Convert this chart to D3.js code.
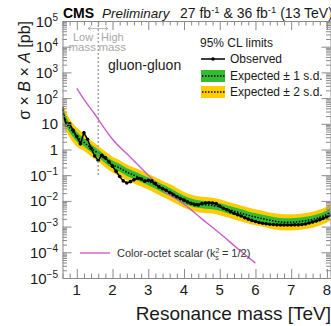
<!DOCTYPE html>
<html>
<head>
<meta charset="utf-8">
<script src="https://cdn.jsdelivr.net/npm/d3@7/dist/d3.min.js"></script>
<style>
  html, body { margin: 0; padding: 0; background: #fff; }
  svg { display: block; font-family: "Liberation Sans", Arial, Helvetica, sans-serif; }
</style>
</head>
<body>
<script>
// ---------------- data ----------------
const obsMass = [0.6,0.7,0.8,0.9,1.0,1.1,1.2,1.3,1.4,1.5,1.6,1.7,1.8,1.9,2.0,2.1,2.2,2.3,2.4,2.5,
  2.6,2.7,2.8,2.9,3.0,3.1,3.2,3.3,3.4,3.5,3.6,3.7,3.8,3.9,4.0,4.1,4.2,4.3,4.4,4.5,
  4.6,4.7,4.8,4.9,5.0,5.1,5.2,5.3,5.4,5.5,5.6,5.7,5.8,5.9,6.0,6.1,6.2,6.3,6.4,6.5,
  6.6,6.7,6.8,6.9,7.0,7.1,7.2,7.3,7.4,7.5,7.6,7.7,7.8,7.9,8.0,8.1];
const obsLimit = [38,8.9,10,5.6,3.2,1.66,4.5,2.5,1.12,0.56,0.38,0.60,0.48,0.33,0.224,0.141,0.089,0.060,0.050,0.056,
  0.066,0.076,0.071,0.058,0.063,0.060,0.047,0.035,0.030,0.026,0.021,0.0174,0.0145,0.0123,0.0107,0.0091,0.0079,0.0071,0.0069,0.0078,
  0.0083,0.0085,0.0083,0.0078,0.0063,0.0052,0.0045,0.0038,0.0033,0.0029,0.0026,0.0022,0.00195,0.00174,0.00158,0.00145,0.00135,0.00129,0.00123,0.00120,
  0.00117,0.00115,0.00115,0.00115,0.00115,0.00117,0.00117,0.00120,0.00126,0.00138,0.00151,0.00166,0.00186,0.0021,0.0024,0.0028];

const expMass = [0.6,0.8,1.0,1.2,1.4,1.6,1.8,2.0,2.2,2.4,2.6,2.8,3.0,3.2,3.4,3.6,3.8,4.0,4.2,4.4,
  4.6,4.8,5.0,5.2,5.4,5.6,5.8,6.0,6.2,6.4,6.6,6.8,7.0,7.2,7.4,7.6,7.8,8.0,8.1];
const expMedian = [25,7.1,3.2,1.9,1.12,0.71,0.42,0.26,0.19,0.132,0.100,0.076,0.058,0.042,0.030,0.0224,0.0158,0.0112,0.0087,0.0076,
  0.0071,0.0066,0.0058,0.0048,0.0040,0.0033,0.00275,0.00234,0.00204,0.00178,0.00158,0.00148,0.00148,0.00155,0.00170,0.00191,0.00229,0.0030,0.0038];
const expPlus2 = [56,15.8,7.1,4.0,2.24,1.41,0.83,0.52,0.38,0.26,0.20,0.151,0.115,0.083,0.060,0.045,0.032,0.0224,0.0174,0.0151,
  0.0141,0.0132,0.0115,0.0095,0.0079,0.0066,0.0055,0.0047,0.0041,0.0035,0.0032,0.0030,0.0030,0.0031,0.0034,0.0038,0.0046,0.0060,0.0079];
const expPlus1 = [38,10.7,4.8,2.75,1.58,1.0,0.59,0.37,0.27,0.186,0.141,0.107,0.081,0.059,0.043,0.032,0.0224,0.0158,0.0123,0.0107,
  0.0100,0.0093,0.0081,0.0068,0.0056,0.0047,0.0039,0.0033,0.0029,0.0025,0.00224,0.0021,0.0021,0.0022,0.0024,0.0027,0.0032,0.0043,0.0055];
const expMinus1 = [16.6,4.7,2.1,1.35,0.79,0.50,0.295,0.186,0.135,0.093,0.071,0.054,0.041,0.0295,0.0214,0.0158,0.0112,0.0079,0.0062,0.0054,
  0.0050,0.0047,0.0041,0.0034,0.0028,0.00234,0.00195,0.00166,0.00145,0.00126,0.00112,0.00105,0.00105,0.0011,0.0012,0.00135,0.00162,0.00214,0.0026];
const expMinus2 = [10.5,2.95,1.32,0.89,0.54,0.34,0.20,0.126,0.091,0.063,0.048,0.036,0.0275,0.020,0.0145,0.0107,0.0076,0.0054,0.0042,0.0036,
  0.0034,0.0032,0.00275,0.00229,0.0019,0.00158,0.00132,0.00112,0.00098,0.00085,0.00076,0.00071,0.00071,0.00074,0.00081,0.00091,0.0011,0.00145,0.00174];

const octetMass = [1.0,1.25,1.5,1.75,2.0,2.5,3.0,3.5,4.0,4.5,5.0,5.5,6.0];
const octetXsec = [240,71,24,7.4,2.5,0.50,0.10,0.022,0.0075,0.0020,0.00055,0.00014,0.000038];

const xTicks = [1,2,3,4,5,6,7,8];
const yExponents = [5,4,3,2,1,0,-1,-2,-3,-4,-5];
const boundaryMass = 1.6;

// ---------------- layout ----------------
const W = 331, H = 326;
const L = 62.5, R = 330.5, T = 21, B = 278;
const frameColor = "#8a8a8a";
const green = "#33bb33", yellow = "#ffcc00", magenta = "#c95fc9";

const svg = d3.select("body").append("svg").attr("width", W).attr("height", H);

const x = d3.scaleLinear().domain([0.6, 8.1]).range([L, R]);
const y = d3.scaleLog().domain([1e-5, 1e5]).range([B, T]);

svg.append("clipPath").attr("id", "clip").append("rect")
  .attr("x", L).attr("y", T).attr("width", R - L).attr("height", B - T);
const plot = svg.append("g").attr("clip-path", "url(#clip)");

// bands
const idx = d3.range(expMass.length);
const area2 = d3.area().curve(d3.curveMonotoneX)
  .x(i => x(expMass[i])).y0(i => y(expMinus2[i])).y1(i => y(expPlus2[i]));
const area1 = d3.area().curve(d3.curveMonotoneX)
  .x(i => x(expMass[i])).y0(i => y(expMinus1[i])).y1(i => y(expPlus1[i]));
plot.append("path").attr("d", area2(idx)).attr("fill", yellow);
plot.append("path").attr("d", area1(idx)).attr("fill", green);
const expLine = d3.line().curve(d3.curveMonotoneX)
  .x(i => x(expMass[i])).y(i => y(expMedian[i]));
plot.append("path").attr("d", expLine(idx)).attr("fill", "none")
  .attr("stroke", "#000").attr("stroke-width", 1.5).attr("stroke-dasharray", "1.5,1.5");

// colour-octet scalar
const oIdx = d3.range(octetMass.length);
const octLine = d3.line().curve(d3.curveMonotoneX)
  .x(i => x(octetMass[i])).y(i => y(octetXsec[i]));
plot.append("path").attr("d", octLine(oIdx)).attr("fill", "none")
  .attr("stroke", magenta).attr("stroke-width", 1.4);

// observed
const obIdx = d3.range(obsMass.length);
const obsLine = d3.line().x(i => x(obsMass[i])).y(i => y(obsLimit[i]));
plot.append("path").attr("d", obsLine(obIdx)).attr("fill", "none")
  .attr("stroke", "#000").attr("stroke-width", 1.5);
plot.selectAll("circle.obs").data(obIdx).enter().append("circle")
  .attr("class", "obs").attr("cx", i => x(obsMass[i])).attr("cy", i => y(obsLimit[i]))
  .attr("r", 1.8).attr("fill", "#000");

// boundary line
svg.append("line").attr("x1", x(boundaryMass)).attr("x2", x(boundaryMass))
  .attr("y1", T).attr("y2", y(0.1))
  .attr("stroke", "#9a9a9a").attr("stroke-width", 1.3).attr("stroke-dasharray", "2,2");

// ---------------- axes ----------------
const majorY = yExponents.map(e => Math.pow(10, e));
const minorY = [];
for (let e = -5; e < 5; e++) for (let k = 2; k <= 9; k++) minorY.push(k * Math.pow(10, e));
const minorX = [];
for (let v = 0.6; v <= 8.1001; v += 0.2) { const r = Math.round(v * 10) / 10; if (!xTicks.includes(r)) minorX.push(r); }

function styleAxis(g) {
  g.select(".domain").attr("stroke", frameColor);
  g.selectAll(".tick line").attr("stroke", frameColor);
}
function minor(g) { g.select(".domain").remove(); g.selectAll(".tick line").attr("stroke", frameColor); }

svg.append("g").attr("transform", `translate(${L},0)`)
  .call(d3.axisLeft(y).tickValues(majorY).tickSize(-9).tickSizeOuter(0).tickFormat("")).call(styleAxis);
svg.append("g").attr("transform", `translate(${L},0)`)
  .call(d3.axisLeft(y).tickValues(minorY).tickSize(-4.5).tickSizeOuter(0).tickFormat("")).call(minor);
svg.append("g").attr("transform", `translate(${R},0)`)
  .call(d3.axisRight(y).tickValues(majorY).tickSize(-9).tickSizeOuter(0).tickFormat("")).call(styleAxis);
svg.append("g").attr("transform", `translate(${R},0)`)
  .call(d3.axisRight(y).tickValues(minorY).tickSize(-4.5).tickSizeOuter(0).tickFormat("")).call(minor);
svg.append("g").attr("transform", `translate(0,${B})`)
  .call(d3.axisBottom(x).tickValues(xTicks).tickSize(-9).tickSizeOuter(0).tickFormat("")).call(styleAxis);
svg.append("g").attr("transform", `translate(0,${B})`)
  .call(d3.axisBottom(x).tickValues(minorX).tickSize(-4.5).tickSizeOuter(0).tickFormat("")).call(minor);
svg.append("g").attr("transform", `translate(0,${T})`)
  .call(d3.axisTop(x).tickValues(xTicks).tickSize(-9).tickSizeOuter(0).tickFormat("")).call(styleAxis);
svg.append("g").attr("transform", `translate(0,${T})`)
  .call(d3.axisTop(x).tickValues(minorX).tickSize(-4.5).tickSizeOuter(0).tickFormat("")).call(minor);

const textColor = "#1a1a1a";
// y tick labels
yExponents.forEach(e => {
  const t = svg.append("text").attr("x", 58).attr("y", y(Math.pow(10, e)) + 5.5)
    .attr("text-anchor", "end").attr("font-size", 15).attr("fill", textColor);
  if (e === 0) t.text("1");
  else if (e === 1) t.text("10");
  else {
    t.append("tspan").text("10");
    t.append("tspan").attr("dy", -6).attr("font-size", 10).text(e < 0 ? "\u2212" + (-e) : String(e));
  }
});
// x tick labels
xTicks.forEach(v => {
  svg.append("text").attr("x", x(v)).attr("y", 295).attr("text-anchor", "middle")
    .attr("font-size", 15).attr("fill", textColor).text(v);
});

// axis titles
svg.append("text").attr("x", 331).attr("y", 320).attr("text-anchor", "end")
  .attr("font-size", 19).attr("fill", textColor).text("Resonance mass [TeV]");
const yt = svg.append("text").attr("transform", "translate(30,21) rotate(-90)")
  .attr("text-anchor", "end").attr("font-size", 16).attr("fill", textColor);
yt.append("tspan").text("\u03c3 \u00d7 ");
yt.append("tspan").attr("font-style", "italic").text("B");
yt.append("tspan").text(" \u00d7 ");
yt.append("tspan").attr("font-style", "italic").text("A");
yt.append("tspan").text(" [pb]");

// header
svg.append("text").attr("x", 63).attr("y", 18).attr("font-size", 14).attr("font-weight", "bold")
  .attr("fill", "#000").text("CMS");
svg.append("text").attr("x", 102).attr("y", 18).attr("font-size", 13.5).attr("font-style", "italic")
  .attr("fill", textColor).text("Preliminary");
const lumi = svg.append("text").attr("x", 180).attr("y", 18).attr("font-size", 14).attr("fill", textColor);
lumi.append("tspan").text("27 fb");
lumi.append("tspan").attr("dy", -5).attr("font-size", 9.5).text("-1");
lumi.append("tspan").attr("dy", 5).text(" & 36 fb");
lumi.append("tspan").attr("dy", -5).attr("font-size", 9.5).text("-1");
lumi.append("tspan").attr("dy", 5).text(" (13 TeV)");

// low/high mass annotation
const gray = "#a8a8a8";
svg.append("text").attr("x", 73).attr("y", 41).attr("font-size", 11).attr("fill", gray).text("Low");
svg.append("text").attr("x", 101).attr("y", 41).attr("font-size", 11).attr("fill", gray).text("High");
svg.append("text").attr("x", 96).attr("y", 51).attr("font-size", 11.5).attr("fill", gray)
  .attr("text-anchor", "end").text("mass");
svg.append("text").attr("x", 98.5).attr("y", 51).attr("font-size", 11.5).attr("fill", gray).text("mass");
svg.append("line").attr("x1", 88).attr("x2", 108).attr("y1", 28.5).attr("y2", 28.5)
  .attr("stroke", gray).attr("stroke-width", 0.8);
svg.append("path").attr("d", "M91,26.5 L88,28.5 L91,30.5 M105,26.5 L108,28.5 L105,30.5")
  .attr("fill", "none").attr("stroke", gray).attr("stroke-width", 0.8);

svg.append("text").attr("x", 108).attr("y", 70).attr("font-size", 14).attr("fill", textColor).text("gluon-gluon");

// legend
svg.append("text").attr("x", 200).attr("y", 46.5).attr("font-size", 12).attr("fill", textColor).text("95% CL limits");
svg.append("line").attr("x1", 201).attr("x2", 225).attr("y1", 59).attr("y2", 59)
  .attr("stroke", "#000").attr("stroke-width", 1.5);
svg.append("circle").attr("cx", 213).attr("cy", 59).attr("r", 1.8).attr("fill", "#000");
svg.append("text").attr("x", 230).attr("y", 63).attr("font-size", 12).attr("fill", textColor).text("Observed");

svg.append("rect").attr("x", 201).attr("y", 70).attr("width", 24).attr("height", 12).attr("fill", green);
svg.append("line").attr("x1", 202).attr("x2", 225).attr("y1", 76).attr("y2", 76)
  .attr("stroke", "#000").attr("stroke-width", 1.5).attr("stroke-dasharray", "1.5,1.5");
svg.append("text").attr("x", 230).attr("y", 79.5).attr("font-size", 12).attr("fill", textColor).text("Expected \u00b1 1 s.d.");

svg.append("rect").attr("x", 201).attr("y", 86).attr("width", 24).attr("height", 12).attr("fill", yellow);
svg.append("line").attr("x1", 202).attr("x2", 225).attr("y1", 92).attr("y2", 92)
  .attr("stroke", "#000").attr("stroke-width", 1.5).attr("stroke-dasharray", "1.5,1.5");
svg.append("text").attr("x", 230).attr("y", 95.5).attr("font-size", 12).attr("fill", textColor).text("Expected \u00b1 2 s.d.");

// colour-octet legend
svg.append("line").attr("x1", 80).attr("x2", 110).attr("y1", 253).attr("y2", 253)
  .attr("stroke", magenta).attr("stroke-width", 1.4);
const ol = svg.append("text").attr("x", 117).attr("y", 257).attr("font-size", 11).attr("fill", "#333");
ol.append("tspan").text("Color-octet scalar (k");
ol.append("tspan").attr("dy", -4).attr("font-size", 7).text("2");
ol.append("tspan").attr("dx", -4).attr("dy", 7).attr("font-size", 7).text("s");
ol.append("tspan").attr("dy", -3).text(" = 1/2)");
</script>
</body>
</html>
